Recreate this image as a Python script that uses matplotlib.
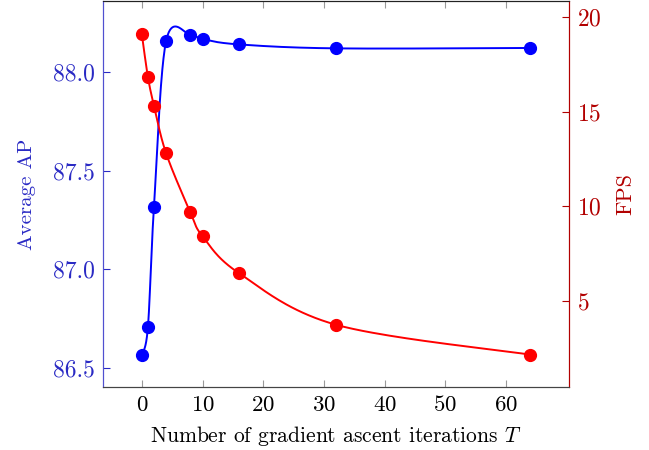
import numpy as np
import matplotlib.pyplot as plt

plt.rcParams['font.family'] = ['cmr10', 'DejaVu Serif']
plt.rcParams['mathtext.fontset'] = 'cm'
plt.rcParams['axes.formatter.use_mathtext'] = True

# data
iters = [0, 1, 2, 4, 8, 10, 16, 32, 64]
avg_ap = [86.566, 86.707, 87.318, 88.157, 88.19, 88.167, 88.14, 88.12, 88.122]
fps = [19.1, 16.84, 15.32, 12.8, 9.68, 8.42, 6.47, 3.74, 2.16]

xlim = (-6.4, 70.4)
ap_lim = (86.404, 88.36)
fps_lim = (0.45, 20.85)


def smooth(xs, ys, xl, yl, tension=0.5, n=40):
    # pgfplots-like smooth curve, computed in normalised axis space
    px = (np.array(xs) - xl[0]) / (xl[1] - xl[0]) * 466
    py = (np.array(ys) - yl[0]) / (yl[1] - yl[0]) * 387
    pts = np.column_stack([px, py])
    out = []
    k = tension / 3.0
    for i in range(len(pts) - 1):
        p0 = pts[i - 1] if i > 0 else pts[i]
        p1, p2 = pts[i], pts[i + 1]
        p3 = pts[i + 2] if i + 2 < len(pts) else pts[i + 1]
        c1 = p1 + k * (p2 - p0)
        c2 = p2 - k * (p3 - p1)
        t = np.linspace(0, 1, n)[:, None]
        seg = (1 - t) ** 3 * p1 + 3 * (1 - t) ** 2 * t * c1 + 3 * (1 - t) * t ** 2 * c2 + t ** 3 * p2
        out.append(seg)
    out = np.vstack(out)
    x = out[:, 0] / 466 * (xl[1] - xl[0]) + xl[0]
    y = out[:, 1] / 387 * (yl[1] - yl[0]) + yl[0]
    return x, y


blue = '#0000ff'
red = '#ff0000'
left_c = '#2a2ac4'
right_c = '#b20000'

fig = plt.figure(figsize=(6.49, 4.50), dpi=100)
ax = fig.add_axes([103 / 649, 63 / 450, 466 / 649, 386 / 450])
ax2 = ax.twinx()

sx, sy = smooth(iters, avg_ap, xlim, ap_lim)
ax.plot(sx, sy, color=blue, lw=1.4)
ax.plot(iters, avg_ap, 'o', color=blue, ms=8.5)

fx, fy = smooth(iters, fps, xlim, fps_lim)
ax2.plot(fx, fy, color=red, lw=1.4)
ax2.plot(iters, fps, 'o', color=red, ms=8.5)

ax.set_xlim(*xlim)
ax.set_ylim(*ap_lim)
ax2.set_ylim(*fps_lim)

ax.set_xticks([0, 10, 20, 30, 40, 50, 60])
ax.set_yticks([86.5, 87.0, 87.5, 88.0])
ax.set_yticklabels(['86.5', '87.0', '87.5', '88.0'])
ax2.set_yticks([5, 10, 15, 20])

ax.tick_params(axis='x', direction='in', length=5, color='#999999', labelsize=16.5, top=True, pad=6)
ax.tick_params(axis='y', direction='in', length=5, color=left_c, labelcolor=left_c, labelsize=17, pad=6)
ax2.tick_params(axis='y', direction='in', length=5, color=right_c, labelcolor=right_c, labelsize=17, pad=6)

for a in (ax, ax2):
    a.spines['top'].set_color('#222222')
    a.spines['bottom'].set_color('#444444')
    a.spines['left'].set_color('#5050d0')
    a.spines['right'].set_color(right_c)

ax.set_xlabel('Number of gradient ascent iterations $T$', fontsize=15.5, labelpad=6)
ax.set_ylabel('Average AP', fontsize=15, color=left_c, labelpad=12)
ax2.set_ylabel('FPS', fontsize=16, color=right_c, labelpad=10)

fig.savefig('out.png', dpi=100)
